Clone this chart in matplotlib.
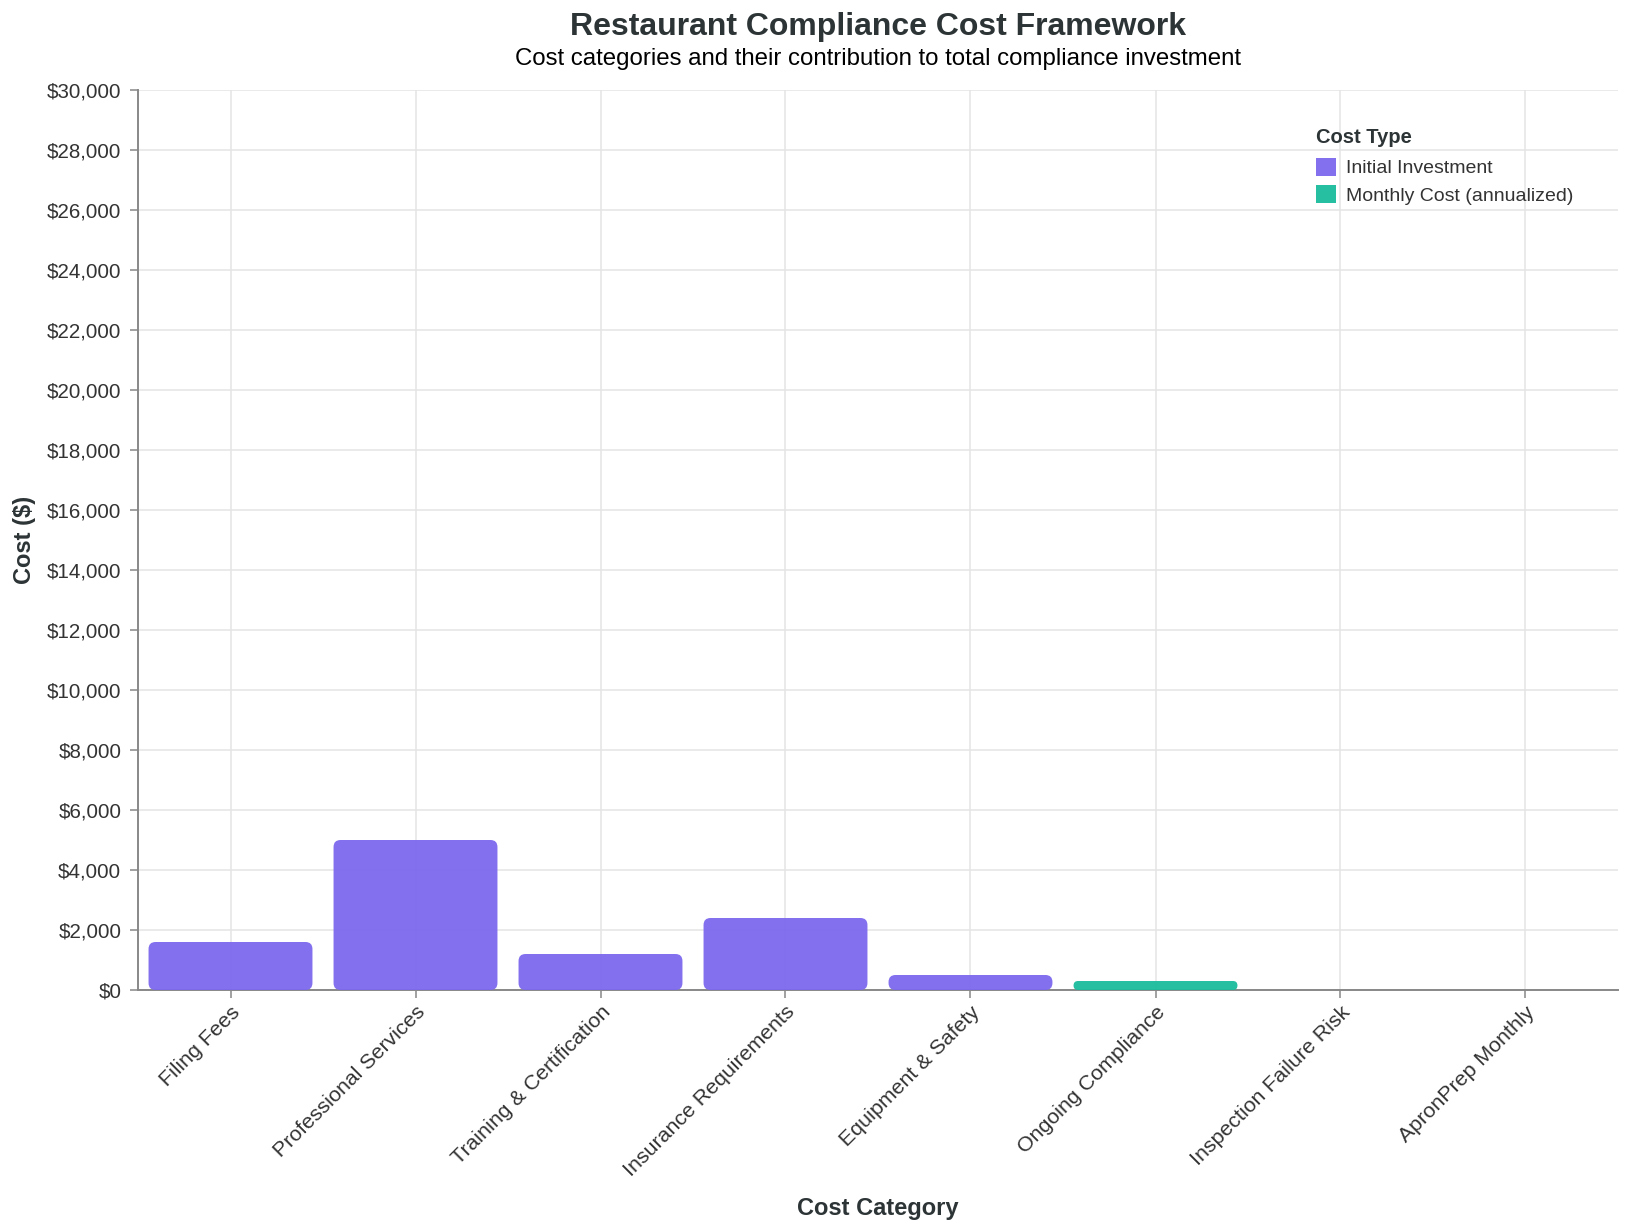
import numpy as np
import matplotlib
matplotlib.use('Agg')
import matplotlib.pyplot as plt
from matplotlib.patches import FancyBboxPatch, Patch

# data
categories = ['Filing Fees', 'Professional Services', 'Training & Certification',
              'Insurance Requirements', 'Equipment & Safety', 'Ongoing Compliance',
              'Inspection Failure Risk', 'ApronPrep Monthly']
costs = [1600, 5000, 1200, 2400, 500, 300, 0, 0]
cost_types = ['Initial Investment', 'Initial Investment', 'Initial Investment',
              'Initial Investment', 'Initial Investment', 'Monthly Cost (annualized)',
              'Monthly Cost (annualized)', 'Monthly Cost (annualized)']
type_names = ['Initial Investment', 'Monthly Cost (annualized)']
type_colors = {'Initial Investment': '#7B68EE', 'Monthly Cost (annualized)': '#1ABC9C'}
y_ticks = list(range(0, 30001, 2000))

W, H = 1628, 1230
plt.rcParams['font.family'] = ['Liberation Sans', 'DejaVu Sans']
fig = plt.figure(figsize=(W / 100, H / 100), dpi=100)

# plot area in pixels
left, right, top, bottom = 138, 1618, 90, 990
ax = fig.add_axes([left / W, 1 - bottom / H, (right - left) / W, (bottom - top) / H])

dark = '#2d3436'
axis_col = '#888888'
grid_col = '#e4e4e4'

x = np.arange(len(categories))
ax.set_xlim(-0.5, len(categories) - 0.5)
ax.set_ylim(0, 30000)

bars = ax.bar(x, costs, width=0.886, color=[type_colors[t] for t in cost_types], alpha=0)

# rounded corners: convert px radius to data units
px_x = ax.transData.transform((1, 0))[0] - ax.transData.transform((0, 0))[0]
px_y = ax.transData.transform((0, 1))[1] - ax.transData.transform((0, 0))[1]
aspect = px_x / px_y
for b, t in zip(bars, cost_types):
    h = b.get_height()
    if h <= 0:
        continue
    r_px = min(7, h * px_y / 2)
    patch = FancyBboxPatch((b.get_x(), 0), b.get_width(), h,
                           boxstyle='round,pad=0,rounding_size=%f' % (r_px / px_x),
                           mutation_aspect=aspect, facecolor=type_colors[t],
                           edgecolor='none', alpha=0.95, zorder=3)
    ax.add_patch(patch)

# axes styling
ax.set_yticks(y_ticks)
ax.set_yticklabels(['${:,}'.format(v) for v in y_ticks])
ax.set_xticks(x)
ax.set_xticklabels(categories, rotation=45, ha='right', va='top', rotation_mode='anchor')
ax.grid(True, color=grid_col, linewidth=1.1, zorder=0)
ax.set_axisbelow(True)
for s in ['top', 'right']:
    ax.spines[s].set_visible(False)
for s in ['left', 'bottom']:
    ax.spines[s].set_color(axis_col)
    ax.spines[s].set_linewidth(1.4)
ax.tick_params(axis='both', colors=axis_col, length=6, width=1.1,
               labelcolor='#333333', labelsize=14.8)
ax.tick_params(axis='y', pad=6)
ax.tick_params(axis='x', pad=3, labelsize=15.4)

ax.set_xlabel('Cost Category', fontsize=17, fontweight='bold', color=dark)
ax.xaxis.set_label_coords(0.5, (bottom - 1215) / (bottom - top))
ax.xaxis.label.set_va('baseline')
ax.set_ylabel('Cost ($)', fontsize=17, fontweight='bold', color=dark)
ax.yaxis.set_label_coords((24 - left) / (right - left), 0.5)
ax.yaxis.label.set_va('center')

# titles
cx = (left + right) / 2 / W
fig.text(cx, 1 - 35 / H, 'Restaurant Compliance Cost Framework', ha='center',
         va='baseline', fontsize=23, fontweight='bold', color=dark)
fig.text(cx, 1 - 65 / H, 'Cost categories and their contribution to total compliance investment',
         ha='center', va='baseline', fontsize=17.3, color='black')

# legend
handles = [Patch(facecolor=type_colors[t], alpha=0.95, edgecolor='none') for t in type_names]
leg = fig.legend(handles, type_names, title='Cost Type', loc='upper left',
                 bbox_to_anchor=(1316 / W, 1 - 128 / H), frameon=False, fontsize=14,
                 handlelength=1.03, handleheight=1.0, handletextpad=0.5,
                 labelspacing=0.4, borderpad=0, borderaxespad=0)
leg.get_title().set_fontweight('bold')
leg.get_title().set_fontsize(14.5)
leg.get_title().set_color(dark)
for t in leg.get_texts():
    t.set_color('#333333')
leg._legend_box.align = 'left'
leg._legend_box.sep = 8

fig.savefig('out.png', dpi=100)
